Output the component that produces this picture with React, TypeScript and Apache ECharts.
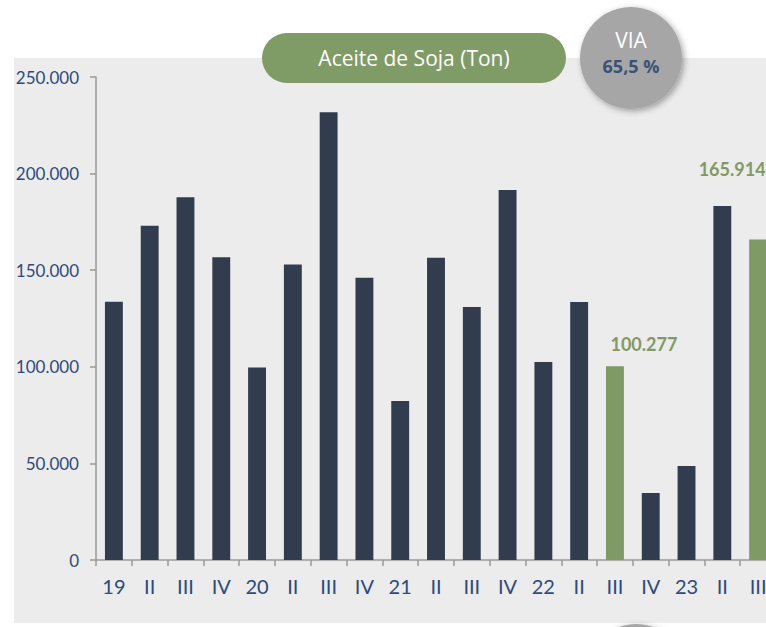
import React, { useEffect, useRef } from "react";
import * as echarts from "echarts";

const categories = ["19", "II", "III", "IV", "20", "II", "III", "IV", "21", "II", "III", "IV", "22", "II", "III", "IV", "23", "II", "III"];
const values = [133700, 173000, 187700, 156700, 99700, 153000, 231700, 146100, 82300, 156500, 131000, 191500, 102500, 133500, 100277, 34700, 48700, 183200, 165914];
const highlightedIndexes = [14, 18];
const labelOffsets: Record<number, [number, number]> = { 14: [29, -8], 18: [-26, -56] };
const yTicks = { min: 0, max: 250000, interval: 50000 };
const titleText = "Aceite de Soja (Ton)";
const badgeTitle = "VIA";
const badgeValue = "65,5 %";

const DARK = "#323c4f";
const GREEN = "#7f9a64";
const AXIS_BLUE = "#2d4a7b";
const LATO = "Lato, sans-serif";
const OPEN = "'Open Sans', sans-serif";

const fmt = (v: number) => (v === 0 ? "0" : Math.round(v).toLocaleString("de-DE"));

export default function App() {
  const ref = useRef<HTMLDivElement>(null);
  useEffect(() => {
    if (!ref.current) return;
    const chart = echarts.init(ref.current, undefined, { renderer: "svg" });
    const data = values.map((v, i) => {
      const hl = highlightedIndexes.includes(i);
      return {
        value: v,
        itemStyle: { color: hl ? GREEN : DARK },
        label: hl
          ? {
              show: true,
              position: "top",
              offset: labelOffsets[i],
              formatter: (p: any) => fmt(p.value),
              color: GREEN,
              fontFamily: LATO,
              fontWeight: "bold",
              fontSize: 18,
            }
          : { show: false },
      };
    });
    chart.setOption({
      animation: false,
      backgroundColor: "#ffffff",
      grid: { left: 96, right: 24, top: 77, bottom: 67, containLabel: false },
      xAxis: {
        type: "category",
        data: categories,
        axisLine: { lineStyle: { color: "#9a9a9a", width: 1.5 } },
        axisTick: { show: true, length: 6, interval: 0, lineStyle: { color: "#9a9a9a", width: 1.5 } },
        axisLabel: { interval: 0, margin: 16, color: AXIS_BLUE, fontFamily: LATO, fontSize: 20 },
      },
      yAxis: {
        type: "value",
        min: yTicks.min,
        max: yTicks.max,
        interval: yTicks.interval,
        axisLine: { show: true, lineStyle: { color: "#9a9a9a", width: 1.5 } },
        axisTick: { show: true, length: 6, lineStyle: { color: "#9a9a9a", width: 1.5 } },
        splitLine: { show: false },
        axisLabel: { margin: 17, color: AXIS_BLUE, fontFamily: LATO, fontSize: 17, formatter: fmt },
      },
      series: [
        {
          type: "bar",
          data,
          barWidth: "50%",
          z: 2,
        },
      ],
      graphic: [
        { type: "rect", z: -10, silent: true, shape: { x: 14, y: 58, width: 900, height: 565 }, style: { fill: "#ececec" } },
        {
          type: "circle",
          z: 50,
          shape: { cx: 636, cy: 675, r: 51 },
          style: { fill: "#a6a6a6", shadowBlur: 6, shadowOffsetX: 2, shadowOffsetY: 2, shadowColor: "rgba(0,0,0,0.35)" },
        },
        {
          type: "rect",
          z: 50,
          shape: { x: 262, y: 33, width: 304, height: 50, r: 25 },
          style: { fill: "#7f9b66" },
        },
        {
          type: "text",
          z: 51,
          x: 414,
          y: 58,
          style: { text: titleText, fill: "#ffffff", fontFamily: OPEN, fontSize: 21, align: "center", verticalAlign: "middle" },
        },
        {
          type: "circle",
          z: 50,
          shape: { cx: 631, cy: 58, r: 51 },
          style: { fill: "#a6a6a6", shadowBlur: 6, shadowOffsetX: 2, shadowOffsetY: 2, shadowColor: "rgba(0,0,0,0.35)" },
        },
        {
          type: "text",
          z: 51,
          x: 631,
          y: 40,
          style: { text: badgeTitle, fill: "#ffffff", fontFamily: OPEN, fontSize: 21, align: "center", verticalAlign: "middle" },
        },
        {
          type: "text",
          z: 51,
          x: 631,
          y: 66,
          style: { text: badgeValue, fill: "#3b5278", fontFamily: OPEN, fontWeight: "bold", fontSize: 18, align: "center", verticalAlign: "middle" },
        },
      ],
    });
    return () => chart.dispose();
  }, []);
  return (
    <div style={{ position: "fixed", left: 0, top: 0, width: 766, height: 627, overflow: "hidden", background: "#fff" }}>
      <div ref={ref} style={{ width: 800, height: 627 }} />
    </div>
  );
}
